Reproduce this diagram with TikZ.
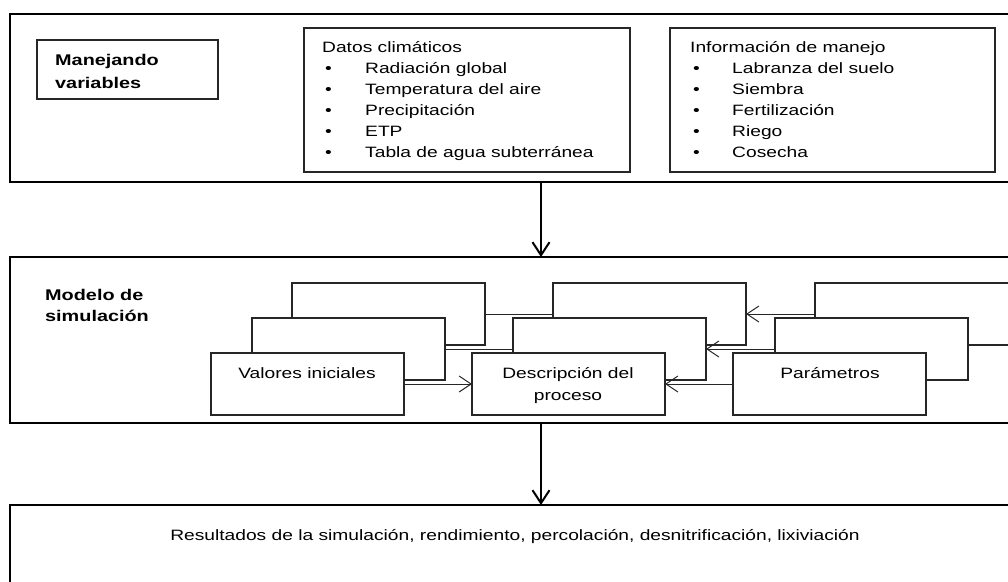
\documentclass[tikz,border=0pt]{standalone}
\usepackage{fontspec}
\setmainfont{Liberation Sans}[FakeStretch=1.28]
\usetikzlibrary{arrows.meta}
\begin{document}
\begin{tikzpicture}[x=1pt,y=-1pt,
  frame/.style={draw=black, line width=2.3pt, fill=none, anchor=north west, inner sep=0pt, outer sep=0pt},
  box/.style={draw=black!85, line width=1.1pt, fill=white, anchor=north west, inner sep=0pt, outer sep=0pt, minimum width=193pt, minimum height=62pt},
  txt/.style={anchor=base west, inner sep=0pt, font=\fontsize{15}{18}\selectfont},
  ctxt/.style={anchor=base, inner sep=0pt, font=\fontsize{15}{18}\selectfont},
  btxt/.style={anchor=base west, inner sep=0pt, font=\fontsize{15.5}{18}\selectfont\bfseries},
  bigarrow/.style={draw=black, line width=2pt, -{Straight Barb[length=13pt,width=17pt,line width=2pt]}},
  arr/.style={draw=black!85, line width=1pt, -{Straight Barb[length=12pt,width=16pt,line width=1pt]}},
  link/.style={draw=black!85, line width=1pt}
]
\useasboundingbox (0,0) rectangle (1008,581);
\clip (0,0) rectangle (1008,581);
\fill[white] (0,0) rectangle (1008,581);

% outer frames
\node[frame, minimum width=1010pt, minimum height=168pt] (top) at (10,14) {};
\node[frame, minimum width=1010pt, minimum height=166pt] (model) at (10,257) {};
\node[frame, minimum width=1010pt, minimum height=110pt] (res) at (10,505) {};
\coordinate (ax) at (541,0);
\draw[bigarrow] (top.south -| ax) -- (model.north -| ax);
\draw[bigarrow] (model.south -| ax) -- (res.north -| ax);

% top section
\node[box, minimum width=181pt, minimum height=59pt] (mv) at (37,40) {};
\node[btxt] (mv1) at (55,65) {Manejando};
\node[btxt] (mv2) at (55,88) {variables};

\node[box, minimum width=326pt, minimum height=144pt] (dc) at (304,28) {};
\node[txt] (dct) at (322,52) {Datos climáticos};
\foreach \t [count=\i] in {Radiación global,Temperatura del aire,Precipitación,ETP,Tabla de agua subterránea}{
  \node[txt] (dcb\i) at (325,52+21*\i) {•};
  \node[txt] (dci\i) at (365,52+21*\i) {\t};
}

\node[box, minimum width=325pt, minimum height=144pt] (im) at (670,28) {};
\node[txt] (imt) at (690,52) {Información de manejo};
\foreach \t [count=\i] in {Labranza del suelo,Siembra,Fertilización,Riego,Cosecha}{
  \node[txt] (imb\i) at (693,52+21*\i) {•};
  \node[txt] (imi\i) at (732,52+21*\i) {\t};
}

% model section
\node[btxt] (ms1) at (45,300) {Modelo de};
\node[btxt] (ms2) at (45,321) {simulación};

% back layer
\node[box] (vi3) at (292,283) {};
\node[box] (dp3) at (553,283) {};
\node[box, minimum width=220pt] (pa3) at (815,283) {};
\draw[link] (vi3.east) -- (dp3.west);
\draw[arr] (pa3.west) -- (dp3.east);
% middle layer
\node[box] (vi2) at (252,318) {};
\node[box] (dp2) at (513,318) {};
\node[box] (pa2) at (775,318) {};
\draw[link] (vi2.east) -- (dp2.west);
\draw[arr] (pa2.west) -- (dp2.east);
% front layer
\node[box] (vi1) at (211,353) {};
\node[box] (dp1) at (472,353) {};
\node[box] (pa1) at (733,353) {};
\draw[arr] (vi1.east) -- (dp1.west);
\draw[arr] (pa1.west) -- (dp1.east);

\node[ctxt] (vit) at (307,378) {Valores iniciales};
\node[ctxt] (dpt1) at (568,378) {Descripción del};
\node[ctxt] (dpt2) at (568,400) {proceso};
\node[ctxt] (pat) at (830,378) {Parámetros};

% results
\node[ctxt] (rest) at (515,540) {Resultados de la simulación, rendimiento, percolación, desnitrificación, lixiviación};
\end{tikzpicture}
\end{document}
